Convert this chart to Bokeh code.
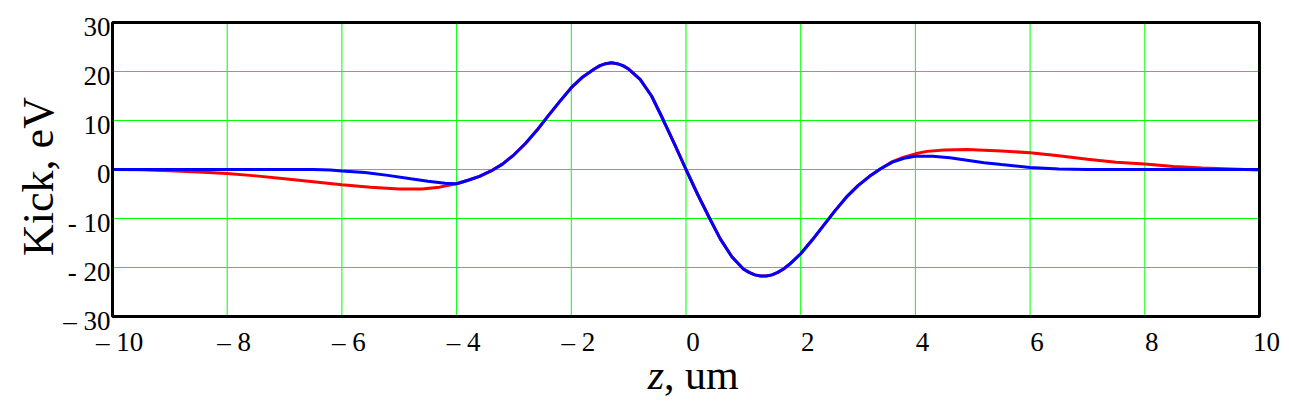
import math
from bokeh.plotting import figure
from bokeh.models import Label, Range1d
from bokeh.embed import file_html
from bokeh.resources import INLINE

# ---- data ----
center_x = [-3.8, -3.6, -3.4, -3.2, -3.0, -2.8, -2.6, -2.4, -2.2, -2.0, -1.8, -1.6, -1.5, -1.4,
            -1.3, -1.2, -1.1, -1.0, -0.8, -0.6, -0.4, -0.2, 0.0, 0.2, 0.4, 0.6, 0.8, 1.0, 1.1,
            1.2, 1.3, 1.4, 1.5, 1.6, 1.7, 1.8, 2.0, 2.2, 2.4, 2.6, 2.8, 3.0, 3.2, 3.4]
center_y = [-2.2, -1.4, -0.3, 1.1, 3.0, 5.3, 8.0, 11.0, 13.9, 16.7, 18.9, 20.5, 21.2, 21.6,
            21.8, 21.6, 21.2, 20.5, 18.4, 15.0, 10.2, 5.2, 0.0, -5.0, -9.7, -14.2, -17.8, -20.3, -21.0,
            -21.5, -21.75, -21.75, -21.5, -21.0, -20.3, -19.4, -17.2, -14.4, -11.4, -8.4, -5.6, -3.3, -1.4, 0.2]

red_left_x = [-10.0, -9.5, -9.0, -8.5, -8.0, -7.5, -7.0, -6.5, -6.0, -5.5, -5.0, -4.6, -4.3, -4.0]
red_left_y = [0.0, -0.05, -0.25, -0.5, -0.8, -1.3, -1.9, -2.5, -3.1, -3.6, -4.0, -4.0, -3.6, -2.9]
red_right_x = [3.6, 3.8, 4.0, 4.2, 4.5, 4.9, 5.5, 6.0, 6.5, 7.0, 7.5, 8.0, 8.5, 9.0, 9.5, 10.0]
red_right_y = [1.6, 2.5, 3.2, 3.7, 4.0, 4.1, 3.8, 3.4, 2.8, 2.1, 1.5, 1.1, 0.6, 0.3, 0.1, -0.1]

blue_left_x = [-10.0, -9.0, -8.0, -7.0, -6.5, -6.2, -6.0, -5.6, -5.2, -4.8, -4.5, -4.2, -4.0]
blue_left_y = [0.0, 0.0, 0.0, 0.0, 0.0, -0.1, -0.3, -0.6, -1.2, -1.9, -2.4, -2.8, -2.9]
blue_right_x = [3.6, 3.8, 4.0, 4.3, 4.6, 4.9, 5.2, 5.5, 6.0, 6.5, 7.0, 8.0, 9.0, 10.0]
blue_right_y = [1.5, 2.3, 2.7, 2.7, 2.4, 1.9, 1.4, 1.0, 0.4, 0.1, 0.0, 0.0, 0.0, 0.0]

x_ticks = [-10, -8, -6, -4, -2, 0, 2, 4, 6, 8, 10]
x_tick_labels = ["\u2013 10", "\u2013 8", "\u2013 6", "\u2013 4", "\u2013 2", "0", "2", "4", "6", "8", "10"]
y_ticks = [-30, -20, -10, 0, 10, 20, 30]
y_tick_labels = ["\u2013 30", "- 20", "- 10", "0", "10", "20", "30"]

x_title_italic = "z"
x_title_rest = ", um"
y_title = "Kick, eV"

red_x = red_left_x + center_x + red_right_x
red_y = red_left_y + center_y + red_right_y
blue_x = blue_left_x + center_x + blue_right_x
blue_y = blue_left_y + center_y + blue_right_y

# ---- layout (pixels) ----
W, H = 1284, 400
L, R, T, B = 112, 1259, 22, 316          # plot box edges on the canvas
x_min, x_max = x_ticks[0], x_ticks[-1]
y_min, y_max = y_ticks[0], y_ticks[-1]
sx = (R - L) / (x_max - x_min)
sy = (B - T) / (y_max - y_min)

FONT = "Liberation Serif"

p = figure(width=W, height=H, output_backend="svg", toolbar_location=None,
           x_range=Range1d(x_min - L / sx, x_max + (W - R) / sx),
           y_range=Range1d(y_min - (H - B) / sy, y_max + T / sy),
           x_axis_location=None, y_axis_location=None,
           min_border=0, min_border_left=0, min_border_right=0,
           min_border_top=0, min_border_bottom=0)
p.background_fill_color = "white"
p.border_fill_color = "white"
p.outline_line_color = None
p.grid.visible = False

# grid lines at the ticks, limited to the plot box
p.segment(x0=x_ticks, y0=[y_min] * len(x_ticks), x1=x_ticks, y1=[y_max] * len(x_ticks),
          line_color="#00ff00", line_width=1)
p.segment(x0=[x_min] * len(y_ticks), y0=y_ticks, x1=[x_max] * len(y_ticks), y1=y_ticks,
          line_color="#00ff00", line_width=1)

p.line(red_x, red_y, line_color="#ff0000", line_width=3)
p.line(blue_x, blue_y, line_color="#0000ff", line_width=3)

# plot box frame
p.quad(left=[x_min], right=[x_max], bottom=[y_min], top=[y_max],
       fill_color=None, line_color="black", line_width=3)

for t, s in zip(x_ticks, x_tick_labels):
    p.add_layout(Label(x=t, y=y_min, text=s, x_offset=7, y_offset=-25,
                       text_align="center", text_baseline="middle",
                       text_font=FONT, text_font_size="27px", text_color="black"))
for t, s in zip(y_ticks, y_tick_labels):
    p.add_layout(Label(x=x_min, y=t, text=s, x_offset=-2, y_offset=-4,
                       text_align="right", text_baseline="middle",
                       text_font=FONT, text_font_size="27px", text_color="black"))

p.add_layout(Label(x=x_min, y=0, text=y_title, x_offset=-74, y_offset=-7,
                   angle=math.pi / 2, text_align="center", text_baseline="middle",
                   text_font=FONT, text_font_size="44px", text_color="black"))
p.add_layout(Label(x=0, y=y_min, text=x_title_italic, x_offset=-22, y_offset=-58,
                   text_align="right", text_baseline="middle", text_font_style="italic",
                   text_font=FONT, text_font_size="42px", text_color="black"))
p.add_layout(Label(x=0, y=y_min, text=x_title_rest, x_offset=-22, y_offset=-58,
                   text_align="left", text_baseline="middle",
                   text_font=FONT, text_font_size="42px", text_color="black"))

open("out.html", "w").write(file_html(p, INLINE))
